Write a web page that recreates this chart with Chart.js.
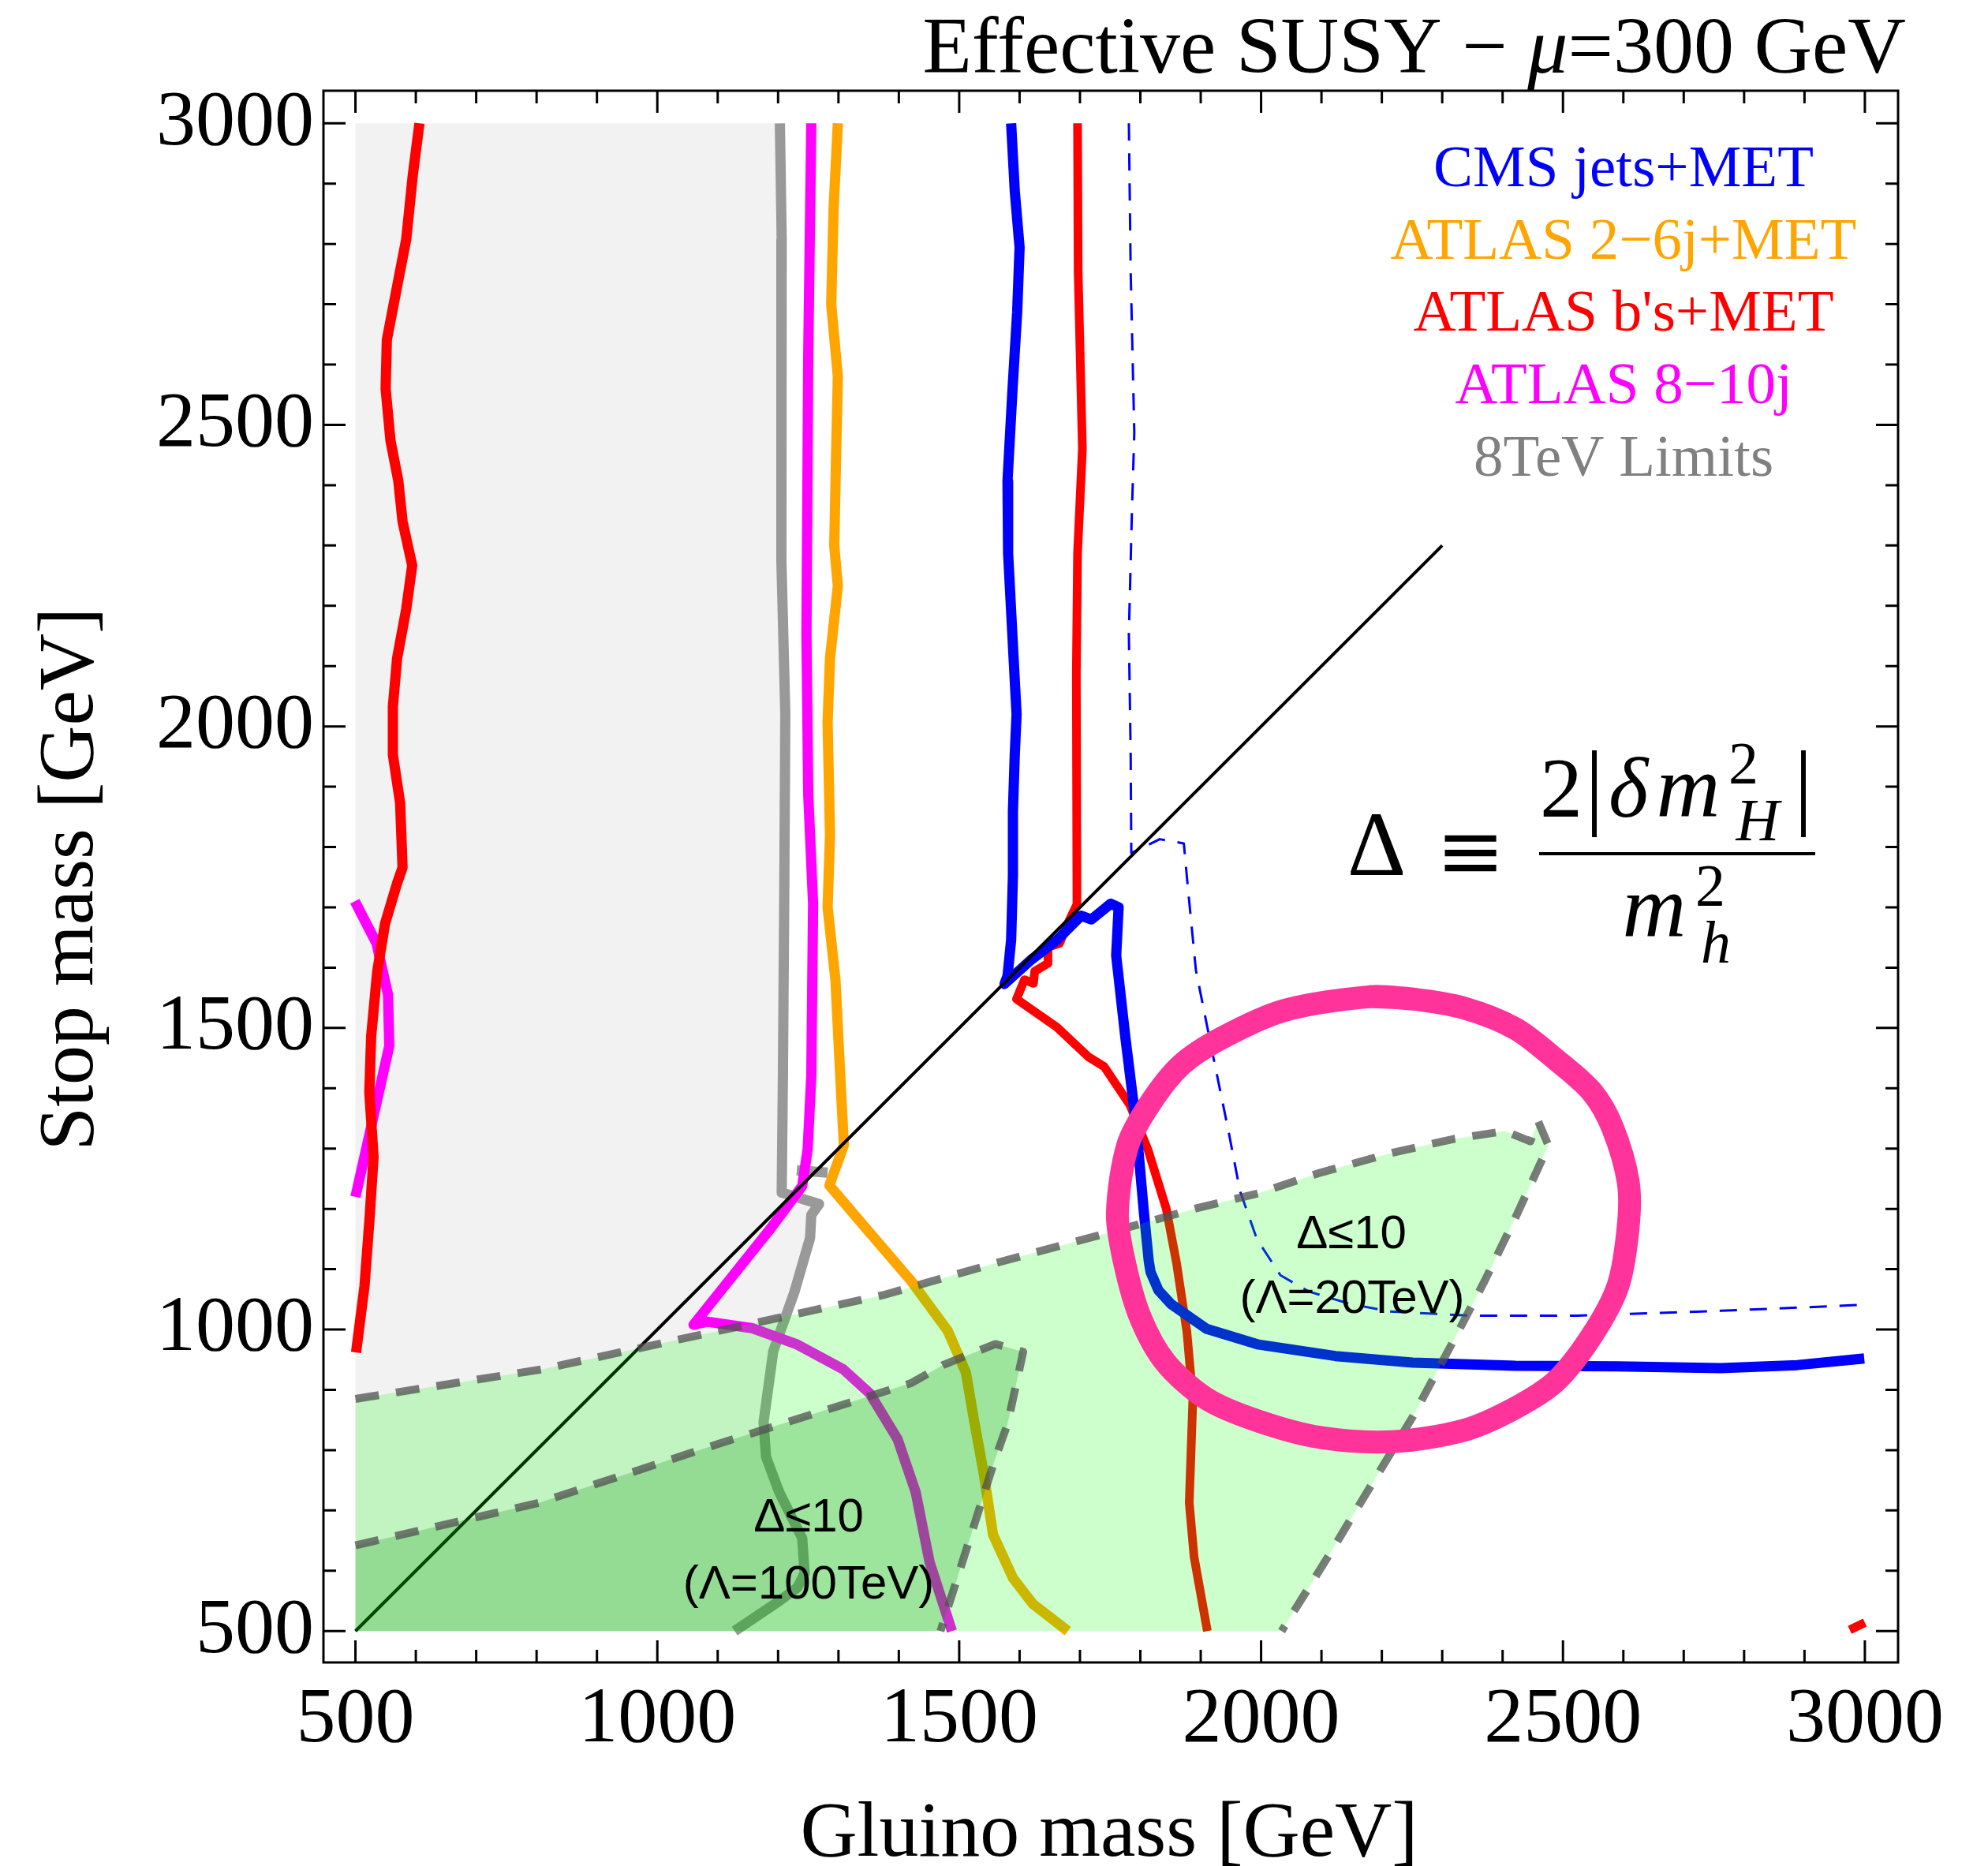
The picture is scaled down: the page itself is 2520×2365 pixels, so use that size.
<!DOCTYPE html>
<html>
<head>
<meta charset="utf-8">
<script src="https://cdn.jsdelivr.net/npm/chart.js@4.4.0/dist/chart.umd.min.js"></script>
<style>
html, body { margin: 0; padding: 0; background: #fff; }
canvas { display: block; }
</style>
</head>
<body>
<canvas id="susy" width="2520" height="2365"></canvas>
<script>
// tick labels
var xTicks = [500, 1000, 1500, 2000, 2500, 3000];
var yTicks = [500, 1000, 1500, 2000, 2500, 3000];

// 8TeV limits (grey) contour
var greyX = [1203, 1206, 1205, 1206, 1212, 1210, 1208, 1206, 1268, 1255, 1253, 1227, 1192, 1176, 1180, 1202, 1240, 1244, 1232, 1202, 1128];
var greyY = [3000, 2807, 2554, 2274, 2021, 1686, 1420, 1227, 1208, 1190, 1152, 1062, 964, 847, 789, 730, 654, 596, 572, 550, 500];
var greyStubX = [1231, 1282];
var greyStubY = [1264, 1260];

// ATLAS 8-10j (magenta)
var magX = [1255, 1250, 1247, 1250, 1258, 1255, 1249, 1240, 1188, 1128, 1060, 1083, 1158, 1232, 1308, 1352, 1398, 1428, 1451, 1488];
var magY = [3000, 2620, 2153, 1886, 1706, 1420, 1299, 1238, 1168, 1093, 1008, 1013, 1002, 975, 934, 894, 818, 730, 614, 500];
var magLeftX = [499, 535, 554, 556, 500];
var magLeftY = [1710, 1640, 1555, 1470, 1220];

// ATLAS 2-6j+MET (orange)
var orangeX = [1299, 1292, 1288, 1299, 1296, 1293, 1299, 1286, 1282, 1286, 1282, 1295, 1305, 1309, 1285, 1336, 1420, 1481, 1511, 1525, 1541, 1556, 1589, 1622, 1680];
var orangeY = [3000, 2860, 2700, 2580, 2446, 2300, 2233, 2113, 2007, 1820, 1700, 1580, 1380, 1306, 1239, 1179, 1081, 998, 929, 847, 759, 660, 588, 545, 500];

// ATLAS b's+MET (red)
var redLeftX = [606, 595, 584, 571, 552, 550, 558, 571, 578, 594, 584, 569, 562, 562, 574, 578, 569, 549, 536, 526, 523, 530, 523, 515, 501];
var redLeftY = [3000, 2914, 2807, 2740, 2641, 2560, 2474, 2407, 2340, 2267, 2194, 2113, 2033, 1953, 1873, 1766, 1740, 1673, 1593, 1486, 1393, 1286, 1179, 1072, 962];
var redX = [1696, 1697, 1704, 1696, 1694, 1695, 1683, 1666, 1647, 1647, 1625, 1623, 1608, 1595, 1662, 1714, 1740, 1783, 1813, 1843, 1860, 1877, 1887, 1881, 1889, 1911];
var redY = [3000, 2754, 2460, 2287, 2087, 1705, 1680, 1640, 1634, 1607, 1594, 1574, 1580, 1548, 1501, 1452, 1436, 1372, 1297, 1200, 1110, 997, 885, 713, 623, 500];
var redDotX = [2975, 3000];
var redDotY = [502, 514];

// CMS jets+MET (blue), solid and dashed
var blueX = [1586, 1592, 1600, 1596, 1588, 1580, 1581, 1588, 1595, 1592, 1589, 1589, 1586, 1580, 1575, 1619, 1662, 1702, 1719, 1751, 1764, 1760, 1775, 1793, 1806, 1814, 1817, 1830, 1851, 1910, 1996, 2123, 2251, 2421, 2591, 2761, 2888, 2999];
var blueY = [3000, 2888, 2794, 2687, 2554, 2407, 2287, 2153, 2020, 1953, 1860, 1753, 1646, 1586, 1573, 1613, 1646, 1686, 1680, 1706, 1700, 1620, 1486, 1340, 1193, 1113, 1095, 1065, 1042, 1001, 975, 956, 945, 940, 939, 936, 941, 952];
var blueDashX = [1781, 1784, 1790, 1786, 1781, 1784, 1785, 1812, 1832, 1872, 1879, 1892, 1920, 1946, 1965, 1993, 2032, 2079, 2145, 2212, 2345, 2524, 2761, 2999];
var blueDashY = [3000, 2754, 2487, 2354, 2153, 1953, 1790, 1803, 1813, 1806, 1730, 1596, 1456, 1329, 1230, 1150, 1090, 1063, 1043, 1030, 1023, 1023, 1031, 1041];

// m_gluino = m_stop
var diagX = [500, 2300];
var diagY = [500, 2300];

// Delta <= 10 regions (Lambda = 20 TeV and 100 TeV)
var lightEdgeX = [500, 809, 1158, 1374, 1567, 1746, 1893, 1996, 2098, 2217, 2319, 2378, 2404, 2446, 2459, 2476, 2421, 2370, 2319, 2251, 2183, 2115, 2034];
var lightEdgeY = [885, 934, 1010, 1057, 1112, 1160, 1201, 1226, 1260, 1293, 1316, 1325, 1329, 1312, 1345, 1305, 1185, 1080, 982, 855, 743, 630, 500];
var darkEdgeX = [500, 805, 1100, 1420, 1473, 1545, 1560, 1606, 1580, 1559, 1469];
var darkEdgeY = [642, 713, 810, 911, 941, 970, 976, 963, 843, 784, 500];

// ring (pink)
var ringX = [2182, 2251, 2336, 2421, 2489, 2548, 2582, 2608, 2608, 2591, 2548, 2489, 2421, 2336, 2217, 2098, 1996, 1910, 1842, 1800, 1774, 1762, 1779, 1817, 1868, 1936, 2038, 2182, 2251];
var ringY = [1552, 1548, 1533, 1499, 1447, 1394, 1335, 1245, 1170, 1072, 990, 915, 870, 833, 814, 821, 848, 885, 945, 1020, 1110, 1192, 1305, 1376, 1439, 1484, 1529, 1552, 1548];

function pts(xs, ys) {
	return xs.map(function (x, i) { return { x: x, y: ys[i] }; });
}

function line(xs, ys, color, width, order, dash, tension) {
	return {
		data: pts(xs, ys),
		showLine: true,
		pointRadius: 0,
		borderColor: color,
		borderWidth: width,
		borderDash: dash || [],
		borderJoinStyle: 'round',
		borderCapStyle: tension ? 'round' : 'butt',
		fill: false,
		tension: tension || 0,
		order: order
	};
}

function area(xs, ys, color, order) {
	return {
		data: pts(xs, ys),
		showLine: true,
		pointRadius: 0,
		borderColor: 'rgba(0,0,0,0)',
		borderWidth: 0,
		backgroundColor: color,
		fill: 'shape',
		tension: 0,
		order: order
	};
}

var greyFillX = [500, 500].concat(greyX, [500]);
var greyFillY = [500, 3000].concat(greyY, [500]);
var lightFillX = [500].concat(lightEdgeX, [500]);
var lightFillY = [500].concat(lightEdgeY, [500]);
var darkFillX = [500].concat(darkEdgeX, [500]);
var darkFillY = [500].concat(darkEdgeY, [500]);

var datasets = [
	area(greyFillX, greyFillY, '#f2f2f2', 100),
	line(greyX, greyY, '#999999', 13, 60),
	line(greyStubX, greyStubY, '#999999', 13, 60),
	line(orangeX, orangeY, '#ffa500', 13, 58),
	line(magX, magY, '#ff00ff', 13, 56),
	line(magLeftX, magLeftY, '#ff00ff', 13, 56),
	line(redLeftX, redLeftY, '#ff0000', 13, 54),
	line(redX, redY, '#ff0000', 11, 54),
	line(redDotX, redDotY, '#ff0000', 11, 54),
	line(blueX, blueY, '#0000ff', 13, 52),
	line(blueDashX, blueDashY, '#0000ff', 3, 51, [22, 16]),
	line(diagX, diagY, '#000000', 4, 50),
	area(lightFillX, lightFillY, 'rgba(0,255,0,0.2)', 30),
	area(darkFillX, darkFillY, 'rgba(0,140,0,0.23)', 29),
	line(lightEdgeX, lightEdgeY, 'rgba(80,80,80,0.75)', 10, 20, [30, 22]),
	line(darkEdgeX, darkEdgeY, 'rgba(80,80,80,0.75)', 10, 19, [30, 22]),
	line(ringX, ringY, '#ff3399', 29, 10, null, 0.3)
];

var serif = 'Liberation Serif';

function runs(ctx, parts, xRight, baseline) {
	var total = 0;
	parts.forEach(function (p) { ctx.font = p[1]; total += ctx.measureText(p[0]).width; });
	var x = xRight - total;
	ctx.textAlign = 'left';
	parts.forEach(function (p) {
		ctx.font = p[1];
		ctx.fillText(p[0], x, baseline);
		x += ctx.measureText(p[0]).width;
	});
}

function txt(ctx, s, font, color, x, y, align) {
	ctx.font = font;
	ctx.fillStyle = color;
	ctx.textAlign = align || 'center';
	ctx.fillText(s, x, y);
}

var decorations = {
	id: 'decorations',
	afterDraw: function (chart) {
		var ctx = chart.ctx, a = chart.chartArea;
		var xs = chart.scales.x, ys = chart.scales.y;
		ctx.save();
		// frame and inward ticks
		ctx.strokeStyle = '#000';
		ctx.lineWidth = 3;
		ctx.strokeRect(a.left, a.top, a.right - a.left, a.bottom - a.top);
		for (var v = 500; v <= 3000; v += 100) {
			var len = v % 500 === 0 ? 28 : 16;
			var px = xs.getPixelForValue(v), py = ys.getPixelForValue(v);
			ctx.beginPath();
			ctx.moveTo(px, a.bottom); ctx.lineTo(px, a.bottom - len);
			ctx.moveTo(px, a.top); ctx.lineTo(px, a.top + len);
			ctx.moveTo(a.left, py); ctx.lineTo(a.left + len, py);
			ctx.moveTo(a.right, py); ctx.lineTo(a.right - len, py);
			ctx.stroke();
		}

		ctx.textBaseline = 'alphabetic';
		ctx.fillStyle = '#000';
		// title
		runs(ctx, [
			['Effective SUSY \u2212 ', '102px ' + serif],
			['\u03bc', 'italic 102px ' + serif],
			['=300 GeV', '102px ' + serif]
		], 2416, 92);

		// axis titles
		txt(ctx, 'Gluino mass [GeV]', '100px ' + serif, '#000', 1406, 2352);
		ctx.save();
		ctx.translate(117, 1114);
		ctx.rotate(-Math.PI / 2);
		txt(ctx, 'Stop mass [GeV]', '100px ' + serif, '#000', 0, 0);
		ctx.restore();

		// legend
		var lf = '75px ' + serif;
		txt(ctx, 'CMS jets+MET', lf, '#0000ff', 2058, 236);
		txt(ctx, 'ATLAS 2\u22126j+MET', lf, '#ffa500', 2058, 328);
		txt(ctx, "ATLAS b's+MET", lf, '#ff0000', 2058, 419);
		txt(ctx, 'ATLAS 8\u221210j', lf, '#ff00ff', 2058, 511);
		txt(ctx, '8TeV Limits', lf, '#808080', 2058, 603);

		// fine-tuning measure
		txt(ctx, '\u0394', '116px ' + serif, '#000', 1745, 1109);
		txt(ctx, '\u2261', '104px DejaVu Serif', '#000', 1864, 1114);
		txt(ctx, '2', '108px ' + serif, '#000', 1979, 1035);
		txt(ctx, '|', '120px ' + serif, '#000', 2021, 1035);
		txt(ctx, '\u03b4', 'italic 108px ' + serif, '#000', 2064, 1035);
		txt(ctx, 'm', 'italic 112px ' + serif, '#000', 2140, 1035);
		txt(ctx, '2', '76px ' + serif, '#000', 2210, 993);
		txt(ctx, 'H', 'italic 76px ' + serif, '#000', 2228, 1065);
		txt(ctx, '|', '120px ' + serif, '#000', 2286, 1035);
		ctx.beginPath();
		ctx.lineWidth = 4;
		ctx.moveTo(1951, 1082); ctx.lineTo(2301, 1082);
		ctx.stroke();
		txt(ctx, 'm', 'italic 112px ' + serif, '#000', 2097, 1187);
		txt(ctx, '2', '76px ' + serif, '#000', 2168, 1148);
		txt(ctx, 'h', 'italic 76px ' + serif, '#000', 2175, 1220);

		// region labels
		var sf = '60px Liberation Sans';
		txt(ctx, '\u0394\u226410', sf, '#000', 1713, 1582);
		txt(ctx, '(\u039b=20TeV)', sf, '#000', 1714, 1664);
		txt(ctx, '\u0394\u226410', sf, '#000', 1025, 1941);
		txt(ctx, '(\u039b=100TeV)', sf, '#000', 1025, 2026);
		ctx.restore();
	}
};

var tickFont = { family: serif, size: 100 };
function plainLabel(v) { return String(v); }

new Chart(document.getElementById('susy'), {
	type: 'scatter',
	data: { datasets: datasets },
	options: {
		responsive: false,
		animation: false,
		layout: { padding: { left: 0, top: 115, right: 114, bottom: 0 } },
		plugins: {
			legend: { display: false },
			tooltip: { enabled: false },
			title: { display: false }
		},
		scales: {
			x: {
				type: 'linear',
				min: 447,
				max: 3055,
				grid: { display: false },
				border: { display: false },
				afterFit: function (s) { s.height = 258; },
				afterBuildTicks: function (s) { s.ticks = xTicks.map(function (v) { return { value: v }; }); },
				ticks: { font: tickFont, color: '#000', padding: 6, maxRotation: 0, autoSkip: false, callback: plainLabel }
			},
			y: {
				type: 'linear',
				min: 448,
				max: 3054,
				grid: { display: false },
				border: { display: false },
				afterFit: function (s) { s.width = 410; },
				afterBuildTicks: function (s) { s.ticks = yTicks.map(function (v) { return { value: v }; }); },
				ticks: { font: tickFont, color: '#000', padding: 4, autoSkip: false, callback: plainLabel }
			}
		}
	},
	plugins: [decorations]
});
</script>
</body>
</html>
